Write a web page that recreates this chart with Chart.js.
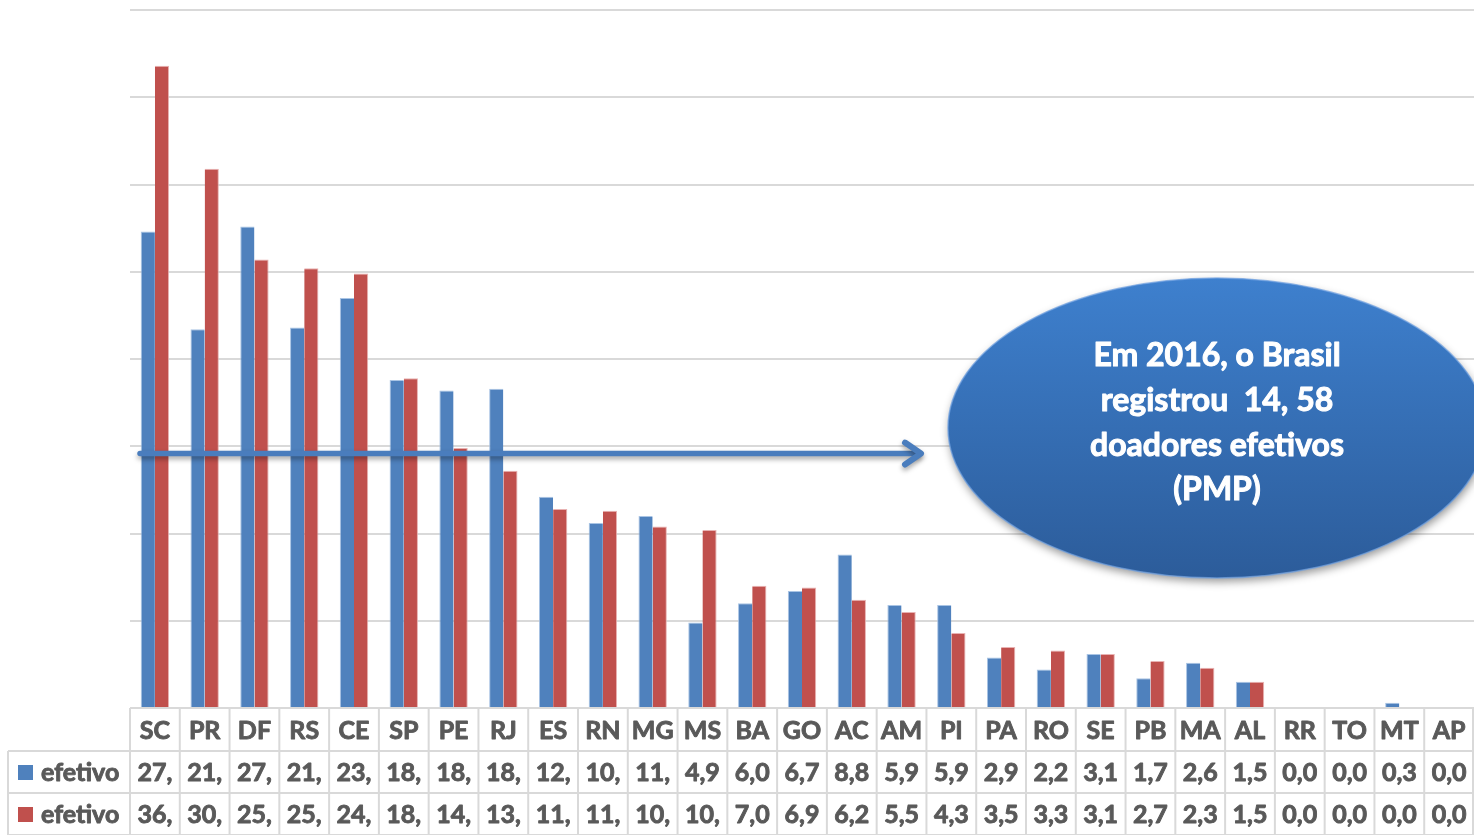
<!DOCTYPE html>
<html>
<head>
<meta charset="utf-8">
<script src="https://cdn.jsdelivr.net/npm/chart.js@4/dist/chart.umd.min.js"></script>
<style>
  html, body { margin: 0; padding: 0; background: #ffffff; }
  #wrap { width: 1474px; height: 835px; }
</style>
</head>
<body>
<div id="wrap"><canvas id="c" width="1474" height="835"></canvas></div>
<script>
// ---- data ----
const categories = ['SC','PR','DF','RS','CE','SP','PE','RJ','ES','RN','MG','MS','BA','GO','AC','AM','PI','PA','RO','SE','PB','MA','AL','RR','TO','MT','AP'];
const seriesNames = ['efetivo', 'efetivo'];
const efetivoA = [27.3,21.7,27.6,21.8,23.5,18.8,18.2,18.3,12.1,10.6,11.0,4.9,6.0,6.7,8.8,5.9,5.9,2.9,2.2,3.1,1.7,2.6,1.5,0.0,0.0,0.3,0.0];
const efetivoB = [36.8,30.9,25.7,25.2,24.9,18.9,14.9,13.6,11.4,11.3,10.4,10.2,7.0,6.9,6.2,5.5,4.3,3.5,3.3,3.1,2.7,2.3,1.5,0.0,0.0,0.0,0.0];
const brasilMedia = 14.58;
const calloutLines = ['Em 2016, o Brasil', 'registrou  14, 58', 'doadores efetivos', '(PMP)'];
const yMin = 0, yMax = 40, yStep = 5;

const BLUE = '#4f81bd', RED = '#c0504d';
const TXT = '#595959', LINE = '#d9d9d9';

// Excel-style cell text: value with comma decimal, cut to the cell width (3 chars)
function cellText(v) {
  const s = v.toFixed(1).replace('.', ',');
  return s.length > 3 ? s.slice(0, 3) : s;
}

function boldText(ctx, t, x, y, w) {
  ctx.lineWidth = w;
  ctx.strokeStyle = ctx.fillStyle;
  ctx.lineJoin = 'round';
  ctx.strokeText(t, x, y);
  ctx.fillText(t, x, y);
}

const overlay = {
  id: 'overlay',
  afterDatasetsDraw(chart) {
    const ctx = chart.ctx;
    const xs = chart.scales.x, ys = chart.scales.y;
    const n = categories.length;
    const cw = (xs.right - xs.left) / n;
    const top = ys.bottom;
    const rowH = [43, 42, 42];
    const r1 = top + rowH[0], r2 = r1 + rowH[1], r3 = r2 + rowH[2];
    const legendLeft = 8;

    // ---- data table ----
    ctx.save();
    ctx.strokeStyle = LINE;
    ctx.lineWidth = 2;
    ctx.beginPath();
    ctx.moveTo(xs.left, top); ctx.lineTo(xs.right, top);
    ctx.moveTo(legendLeft, r1); ctx.lineTo(xs.right, r1);
    ctx.moveTo(legendLeft, r2); ctx.lineTo(xs.right, r2);
    ctx.moveTo(legendLeft, r3); ctx.lineTo(xs.right, r3);
    for (let i = 0; i <= n; i++) {
      const x = Math.min(xs.left + i * cw, xs.right - 1);
      ctx.moveTo(x, top); ctx.lineTo(x, r3);
    }
    ctx.moveTo(legendLeft, r1); ctx.lineTo(legendLeft, r3);
    ctx.stroke();

    ctx.fillStyle = TXT;
    ctx.font = 'bold 25px Lato';
    ctx.textAlign = 'center';
    ctx.textBaseline = 'middle';
    const rows = [efetivoA, efetivoB];
    for (let i = 0; i < n; i++) {
      const cx = xs.getPixelForValue(i);
      boldText(ctx, categories[i], cx, (top + r1) / 2 + 1, 0.9);
      boldText(ctx, cellText(rows[0][i]), cx, (r1 + r2) / 2 + 1, 0.9);
      boldText(ctx, cellText(rows[1][i]), cx, (r2 + r3) / 2 + 1, 0.9);
    }
    // legend keys
    const keyColors = [BLUE, RED];
    ctx.textAlign = 'left';
    for (let k = 0; k < 2; k++) {
      const cy = k === 0 ? (r1 + r2) / 2 : (r2 + r3) / 2;
      ctx.fillStyle = keyColors[k];
      ctx.fillRect(18, cy - 7, 15, 15);
      ctx.fillStyle = TXT;
      boldText(ctx, seriesNames[k], 41, cy + 1, 0.9);
    }
    ctx.restore();

    // ---- arrow at Brasil average ----
    const ay = ys.getPixelForValue(brasilMedia);
    const ax0 = xs.left + 10, ax1 = 921;
    ctx.save();
    ctx.shadowColor = 'rgba(0,0,0,0.35)';
    ctx.shadowBlur = 5;
    ctx.shadowOffsetY = 3;
    ctx.strokeStyle = '#4a7dbd';
    ctx.lineWidth = 5.5;
    ctx.lineCap = 'round';
    ctx.lineJoin = 'round';
    ctx.beginPath();
    ctx.moveTo(ax0, ay); ctx.lineTo(ax1 - 3, ay);
    ctx.stroke();
    ctx.lineWidth = 6;
    ctx.beginPath();
    ctx.moveTo(ax1 - 16, ay - 11);
    ctx.lineTo(ax1, ay);
    ctx.lineTo(ax1 - 16, ay + 11);
    ctx.stroke();
    ctx.restore();

    // ---- callout ellipse ----
    const ex = 1217, ey = 428, rx = 269, ry = 150;
    ctx.save();
    ctx.shadowColor = 'rgba(0,0,0,0.4)';
    ctx.shadowBlur = 8;
    ctx.shadowOffsetX = 1;
    ctx.shadowOffsetY = 4;
    const g = ctx.createLinearGradient(0, ey - ry, 0, ey + ry);
    g.addColorStop(0, '#3e80ce');
    g.addColorStop(1, '#2c5c9a');
    ctx.fillStyle = g;
    ctx.beginPath();
    ctx.ellipse(ex, ey, rx, ry, 0, 0, Math.PI * 2);
    ctx.fill();
    ctx.restore();
    ctx.save();
    ctx.strokeStyle = 'rgba(110,160,225,0.7)';
    ctx.lineWidth = 1.5;
    ctx.beginPath();
    ctx.ellipse(ex, ey, rx, ry, 0, 0, Math.PI * 2);
    ctx.stroke();
    ctx.fillStyle = '#ffffff';
    ctx.font = 'bold 32px Lato';
    ctx.textAlign = 'center';
    ctx.textBaseline = 'middle';
    const lineY = [356, 401, 446, 490];
    calloutLines.forEach((t, i) => boldText(ctx, t, ex, lineY[i], 1.0));
    ctx.restore();
  }
};

new Chart(document.getElementById('c'), {
  type: 'bar',
  data: {
    labels: categories,
    datasets: [
      { label: seriesNames[0], data: efetivoA, backgroundColor: BLUE, borderColor: 'rgba(160,190,225,0.9)', borderWidth: { top: 1, left: 1, right: 0, bottom: 0 }, borderSkipped: 'bottom' },
      { label: seriesNames[1], data: efetivoB, backgroundColor: RED, borderColor: 'rgba(230,170,170,0.9)', borderWidth: { top: 1, left: 0, right: 1, bottom: 0 }, borderSkipped: 'bottom' }
    ]
  },
  options: {
    responsive: false,
    animation: false,
    devicePixelRatio: 1,
    layout: { padding: { left: 130, right: 0, top: 10, bottom: 127 } },
    plugins: { legend: { display: false }, tooltip: { enabled: false } },
    datasets: { bar: { categoryPercentage: 0.57, barPercentage: 1.0 } },
    scales: {
      x: { display: false, offset: true },
      y: {
        min: yMin, max: yMax,
        ticks: { display: false, stepSize: yStep },
        grid: { color: LINE, lineWidth: 2, drawTicks: false },
        border: { display: false },
        afterFit(s) { s.width = 0; }
      }
    }
  },
  plugins: [overlay]
});
</script>
</body>
</html>
